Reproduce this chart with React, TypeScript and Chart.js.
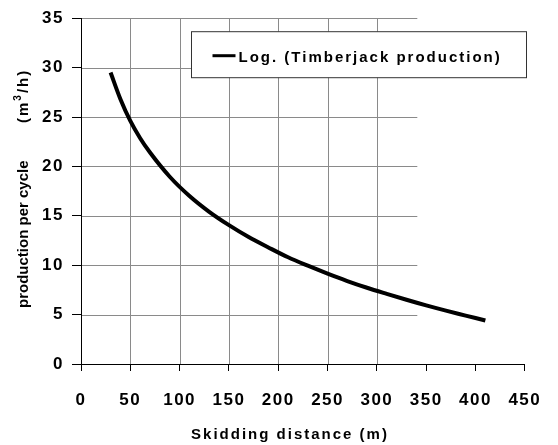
import { useEffect, useRef } from 'react';
import { Chart, registerables } from 'chart.js';

Chart.register(...registerables);

// ---- data ----
const distances = [30, 40, 50, 60, 70, 90, 110, 130, 150, 170, 190, 210, 230, 250, 270, 290, 310, 330, 350, 370, 390, 410];
const production = [29.5, 26.8, 24.6, 22.85, 21.4, 18.95, 17.0, 15.4, 14.05, 12.85, 11.8, 10.8, 9.95, 9.15, 8.4, 7.72, 7.1, 6.5, 5.93, 5.4, 4.9, 4.4];

const xMin = 0;
const xMax = 450;
const xStep = 50;
const yMin = 0;
const yMax = 35;
const yStep = 5;

const gridXValues = [50, 100, 150, 200, 250, 300];
const gridYValues = [5, 10, 15, 20, 25, 30, 35];
const gridXEnd = 341;

const seriesLabel = 'Log. (Timberjack production)';
const xTitle = 'Skidding distance (m)';
const yTitleMain = 'production per cycle';
const yUnitParts = ['(m', '3', '/h)'];

const FONT = 'Arial, "Liberation Sans", sans-serif';

const chartPlugin = {
  id: 'customDecor',
  beforeDraw(chart: any) {
    chart.ctx.letterSpacing = '1.5px';
  },
  beforeDatasetsDraw(chart: any) {
    const { ctx, scales } = chart;
    const xs = scales.x;
    const ys = scales.y;
    ctx.save();
    ctx.strokeStyle = '#8a8a8a';
    ctx.lineWidth = 1;
    const x0 = xs.getPixelForValue(0);
    const xe = xs.getPixelForValue(gridXEnd);
    for (const v of gridYValues) {
      const py = Math.round(ys.getPixelForValue(v)) + 0.5;
      ctx.beginPath();
      ctx.moveTo(x0 + 1, py);
      ctx.lineTo(xe, py);
      ctx.stroke();
    }
    const yTop = ys.getPixelForValue(yMax);
    const yBot = ys.getPixelForValue(yMin);
    for (const v of gridXValues) {
      const px = Math.round(xs.getPixelForValue(v)) + 0.5;
      ctx.beginPath();
      ctx.moveTo(px, yTop);
      ctx.lineTo(px, yBot);
      ctx.stroke();
    }
    ctx.restore();
  },
  afterDraw(chart: any) {
    const { ctx, chartArea } = chart;
    ctx.save();
    // legend box
    const bx = chartArea.left + 110.5;
    const by = chartArea.top + 13.5;
    const bw = 335;
    const bh = 46;
    ctx.fillStyle = '#ffffff';
    ctx.fillRect(bx, by, bw, bh);
    ctx.strokeStyle = '#333333';
    ctx.lineWidth = 1;
    ctx.strokeRect(bx, by, bw, bh);
    ctx.strokeStyle = '#000000';
    ctx.lineWidth = 3;
    ctx.beginPath();
    ctx.moveTo(bx + 21, by + 24);
    ctx.lineTo(bx + 44, by + 24);
    ctx.stroke();
    ctx.letterSpacing = '2px';
    ctx.fillStyle = '#000000';
    ctx.font = `bold 15px ${FONT}`;
    ctx.textAlign = 'left';
    ctx.textBaseline = 'middle';
    ctx.fillText(seriesLabel, bx + 47, by + 26);

    // x title
    ctx.letterSpacing = '2px';
    ctx.font = `bold 15px ${FONT}`;
    ctx.textAlign = 'center';
    ctx.textBaseline = 'middle';
    ctx.fillText(xTitle, chartArea.left + 209, 435);

    // y title (rotated)
    ctx.translate(24, 0);
    ctx.rotate(-Math.PI / 2);
    ctx.textAlign = 'left';
    ctx.textBaseline = 'middle';
    ctx.letterSpacing = '0px';
    ctx.font = `bold 15px ${FONT}`;
    ctx.fillText(yTitleMain, -308, 0);
    // unit with superscript
    ctx.letterSpacing = '2px';
    let u = -123;
    ctx.font = `bold 15px ${FONT}`;
    ctx.fillText(yUnitParts[0], u, 0);
    u += ctx.measureText(yUnitParts[0]).width;
    ctx.font = `bold 10px ${FONT}`;
    ctx.fillText(yUnitParts[1], u, -6);
    u += ctx.measureText(yUnitParts[1]).width;
    ctx.font = `bold 15px ${FONT}`;
    ctx.fillText(yUnitParts[2], u, 0);
    ctx.restore();
  },
};

export default function App() {
  const ref = useRef<HTMLCanvasElement | null>(null);
  useEffect(() => {
    if (!ref.current) return;
    const chart = new Chart(ref.current, {
      type: 'line',
      data: {
        datasets: [
          {
            label: seriesLabel,
            data: distances.map((d, i) => ({ x: d, y: production[i] })),
            borderColor: '#000000',
            borderWidth: 4,
            pointRadius: 0,
            fill: false,
            tension: 0.4,
            cubicInterpolationMode: 'monotone',
          },
        ],
      },
      options: {
        animation: false,
        responsive: true,
        maintainAspectRatio: false,
        layout: { padding: { left: 0, top: 15, right: 23, bottom: 0 } },
        plugins: { legend: { display: false }, tooltip: { enabled: false } },
        scales: {
          x: {
            type: 'linear',
            min: xMin,
            max: xMax,
            afterFit: (s: any) => {
              s.height = 81;
            },
            ticks: {
              stepSize: xStep,
              color: '#000000',
              padding: 19,
              maxRotation: 0,
              font: { family: FONT, size: 17, weight: 'bold' },
            },
            grid: { drawOnChartArea: false, tickLength: 7, tickColor: '#000000', color: '#000000' },
            border: { display: true, color: '#000000', width: 1 },
          },
          y: {
            type: 'linear',
            min: yMin,
            max: yMax,
            afterFit: (s: any) => {
              s.width = 81;
            },
            ticks: {
              stepSize: yStep,
              color: '#000000',
              padding: 8,
              font: { family: FONT, size: 17, weight: 'bold' },
            },
            grid: { drawOnChartArea: false, tickLength: 9, tickColor: '#000000', color: '#000000' },
            border: { display: true, color: '#000000', width: 1 },
          },
        },
      },
      plugins: [chartPlugin],
    } as any);
    return () => chart.destroy();
  }, []);
  return (
    <div style={{ position: 'absolute', left: 0, top: 0, width: 558, height: 445, background: '#ffffff' }}>
      <canvas ref={ref} />
    </div>
  );
}
